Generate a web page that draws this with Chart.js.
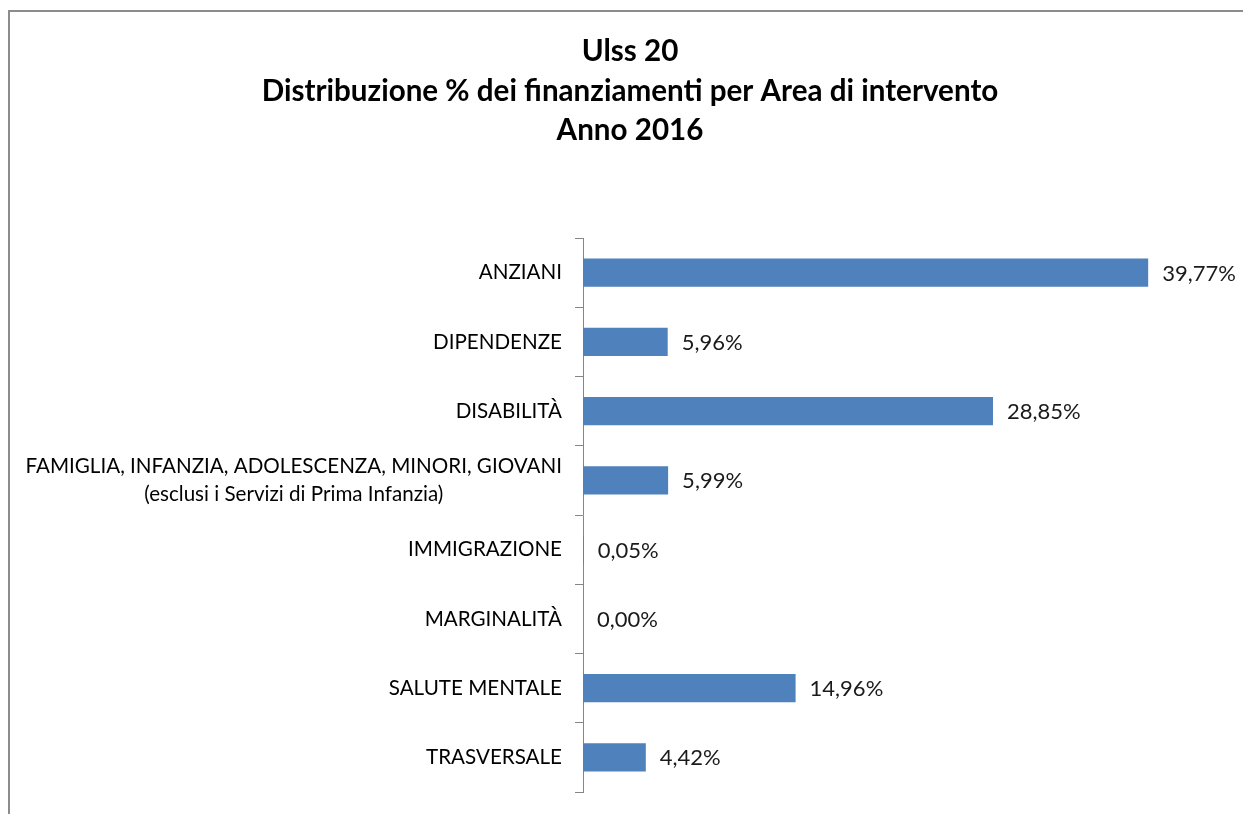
<!DOCTYPE html>
<html><head><meta charset="utf-8">
<script src="https://cdn.jsdelivr.net/npm/chart.js@4.4.1/dist/chart.umd.min.js"></script>
<style>
html,body{margin:0;padding:0;background:#fff;overflow:hidden;}
#frame{position:absolute;left:8px;top:10px;width:1400px;height:1000px;border:2px solid #8c8c8c;box-sizing:border-box;}
#wrap{position:absolute;left:0;top:0;width:1243px;height:814px;}
</style></head>
<body>
<div id="frame"></div>
<div id="wrap"><canvas id="c" width="1243" height="814"></canvas></div>
<script>
const titleLines = ["Ulss 20", "Distribuzione % dei finanziamenti per Area di intervento", "Anno 2016"];
const categories = [
  ["ANZIANI"],
  ["DIPENDENZE"],
  ["DISABILITÀ"],
  ["FAMIGLIA, INFANZIA, ADOLESCENZA, MINORI, GIOVANI", "(esclusi i Servizi di Prima Infanzia)"],
  ["IMMIGRAZIONE"],
  ["MARGINALITÀ"],
  ["SALUTE MENTALE"],
  ["TRASVERSALE"]
];
const values = [39.77, 5.96, 28.85, 5.99, 0.05, 0.00, 14.96, 4.42];
const valueLabels = ["39,77%", "5,96%", "28,85%", "5,99%", "0,05%", "0,00%", "14,96%", "4,42%"];

const FONT = "Lato, 'Open Sans', sans-serif";
const AXIS_X = 583;

const customDraw = {
  id: 'customDraw',
  afterDraw(chart) {
    const ctx = chart.ctx;
    ctx.save();
    ctx.fillStyle = '#000';
    ctx.textAlign = 'center';
    ctx.textBaseline = 'middle';
    ctx.font = "bold 29.6px " + FONT;
    const tys = [51, 91, 130];
    titleLines.forEach((t, i) => ctx.fillText(t, 630, tys[i]));
    const ys = chart.scales.y;
    ctx.font = "20.6px " + FONT;
    ctx.fillStyle = '#000';
    categories.forEach((lines, i) => {
      const yc = ys.getPixelForValue(i);
      const widths = lines.map(l => ctx.measureText(l).width);
      const bw = Math.max(...widths);
      const right = AXIS_X - 21;
      const lh = 28;
      const y0 = yc - (lines.length - 1) * lh / 2;
      lines.forEach((l, j) => {
        ctx.textAlign = 'center';
        ctx.fillText(l, right - bw / 2, y0 + j * lh);
      });
    });
    const meta = chart.getDatasetMeta(0);
    ctx.textAlign = 'left';
    ctx.font = "22px " + FONT;
    ctx.fillStyle = '#1a1a1a';
    meta.data.forEach((bar, i) => {
      ctx.fillText(valueLabels[i], bar.x + 14, bar.y + 1);
    });
    ctx.restore();
  }
};

new Chart(document.getElementById('c'), {
  type: 'bar',
  data: {
    labels: categories.map(c => c.join(' ')),
    datasets: [{
      data: values,
      backgroundColor: '#4F81BD',
      borderColor: '#4F81BD',
      borderWidth: 0,
      barPercentage: 0.41,
      categoryPercentage: 1.0
    }]
  },
  options: {
    indexAxis: 'y',
    responsive: false,
    animation: false,
    layout: { padding: { top: 238, bottom: 814 - 792, left: 0, right: 20.5 } },
    plugins: { legend: { display: false }, title: { display: false }, tooltip: { enabled: false } },
    scales: {
      x: { display: false, min: 0, max: 45 },
      y: {
        offset: true,
        grid: { display: true, drawOnChartArea: false, drawTicks: true, tickLength: 8, color: '#868686', offset: true },
        border: { display: true, color: '#868686', width: 1 },
        ticks: { display: false },
        afterFit(scale) { scale.width = AXIS_X; }
      }
    }
  },
  plugins: [customDraw]
});
</script>
</body></html>
